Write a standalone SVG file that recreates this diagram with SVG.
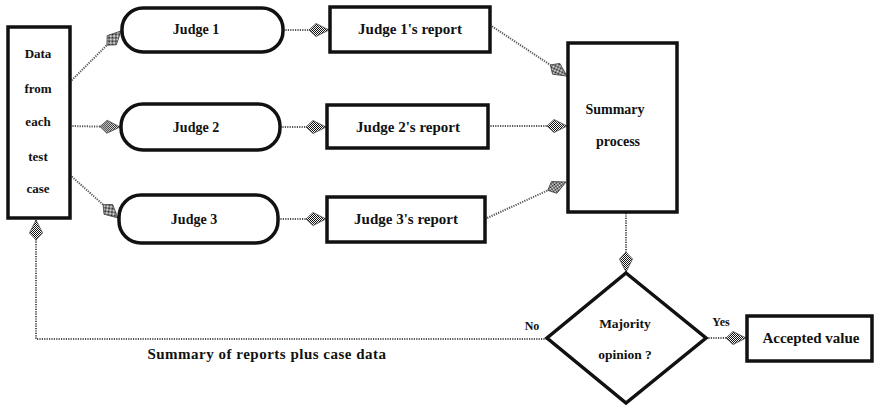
<svg xmlns="http://www.w3.org/2000/svg" width="875" height="405" viewBox="0 0 875 405">
<defs>
<pattern id="checker" width="2" height="2" patternUnits="userSpaceOnUse">
<rect width="2" height="2" fill="#fff"/>
<rect x="0" y="0" width="1" height="1" fill="#111"/>
<rect x="1" y="1" width="1" height="1" fill="#111"/>
</pattern>
<marker id="arr" markerWidth="24" markerHeight="16" refX="21" refY="8" orient="auto" markerUnits="userSpaceOnUse">
<path d="M1,8 L8,1.5 L21,8 L8,14.5 Z" fill="url(#checker)" stroke="#444" stroke-width="0.8"/>
</marker>
<style>
.box{fill:#fff;stroke:#111;stroke-width:3.5}
.t{font-family:"Liberation Serif","Times New Roman","DejaVu Serif",serif;font-weight:bold;font-size:14px;fill:#111;text-anchor:middle}
.c{fill:none;stroke:#555;stroke-width:2;stroke-dasharray:1.2 1.2}
</style>
</defs>
<rect width="875" height="405" fill="#fff"/>
<g id="connectors">
<path class="c" d="M70,82 L121,31" marker-end="url(#arr)"/>
<path class="c" d="M70,126 L120,127" marker-end="url(#arr)"/>
<path class="c" d="M70,175 L118,218" marker-end="url(#arr)"/>
<path class="c" d="M283,30 L329,30" marker-end="url(#arr)"/>
<path class="c" d="M280,127 L326,127" marker-end="url(#arr)"/>
<path class="c" d="M278,219 L326,219" marker-end="url(#arr)"/>
<path class="c" d="M490,25 L567,76" marker-end="url(#arr)"/>
<path class="c" d="M488,126 L567,126" marker-end="url(#arr)"/>
<path class="c" d="M485,219 L566,182" marker-end="url(#arr)"/>
<path class="c" d="M626,213 L626,272" marker-end="url(#arr)"/>
<path class="c" d="M706,338 L746,338" marker-end="url(#arr)"/>
<path class="c" d="M547,339 L36,339 L36,220" marker-end="url(#arr)"/>
</g>
<g id="data">
<rect class="box" x="8" y="27" width="62" height="191"/>
<text class="t" x="38" y="58" style="font-size:13px">Data</text>
<text class="t" x="38" y="93" style="font-size:13px">from</text>
<text class="t" x="38" y="126" style="font-size:13px">each</text>
<text class="t" x="38" y="161" style="font-size:13px">test</text>
<text class="t" x="38" y="193" style="font-size:13px">case</text>
</g>
<g id="judge1">
<rect class="box" x="122" y="8" width="161" height="44" rx="21"/>
<text class="t" x="196" y="34">Judge 1</text>
</g>
<g id="judge2">
<rect class="box" x="121" y="104" width="159" height="46" rx="22"/>
<text class="t" x="196" y="132">Judge 2</text>
</g>
<g id="judge3">
<rect class="box" x="119" y="195" width="159" height="48" rx="22"/>
<text class="t" x="194" y="224">Judge 3</text>
</g>
<g id="report1">
<rect class="box" x="330" y="7" width="160" height="45"/>
<text class="t" x="410" y="34" style="font-size:15px">Judge 1's report</text>
</g>
<g id="report2">
<rect class="box" x="327" y="105" width="161" height="43"/>
<text class="t" x="408" y="132" style="font-size:15px">Judge 2's report</text>
</g>
<g id="report3">
<rect class="box" x="327" y="197" width="158" height="45"/>
<text class="t" x="406" y="224" style="font-size:15px">Judge 3's report</text>
</g>
<g id="summary">
<rect class="box" x="568" y="43" width="109" height="169"/>
<text class="t" x="615" y="114">Summary</text>
<text class="t" x="618" y="146">process</text>
</g>
<g id="majority">
<polygon class="box" points="626,273 706,338 626,403 547,338" stroke-width="5"/>
<text class="t" x="625" y="328" style="font-size:13.5px">Majority</text>
<text class="t" x="625" y="359" style="font-size:13.5px">opinion ?</text>
</g>
<g id="accepted">
<rect class="box" x="747" y="316" width="125" height="45"/>
<text class="t" x="811" y="343" style="font-size:15px">Accepted value</text>
</g>
<g id="labels">
<text class="t" x="532" y="330" style="font-size:12px">No</text>
<text class="t" x="721" y="326" style="font-size:12px">Yes</text>
<text class="t" x="267" y="359" style="font-size:15px;letter-spacing:0.5px">Summary of reports plus case data</text>
</g>
</svg>
